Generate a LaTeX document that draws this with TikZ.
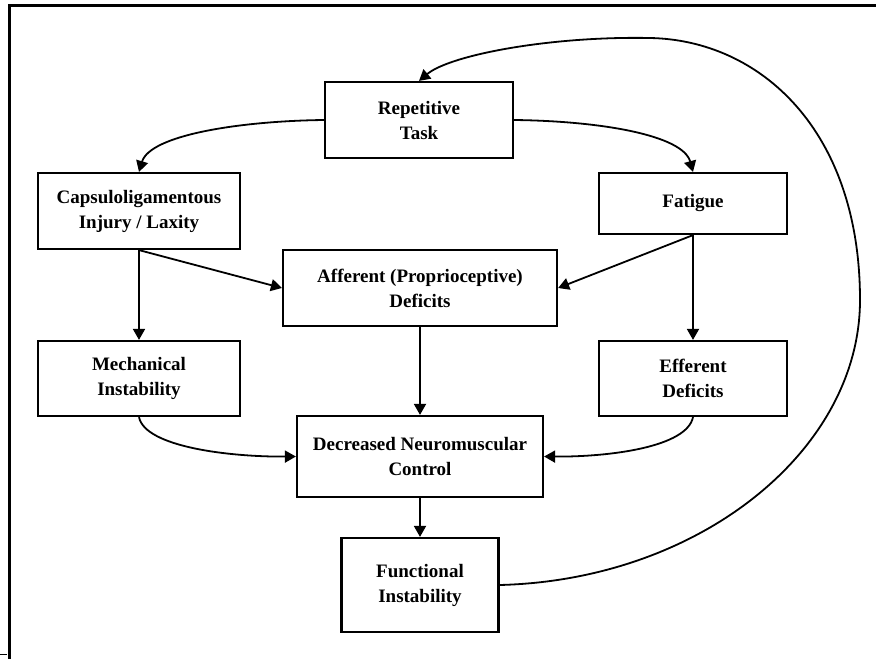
\documentclass[tikz,border=0pt]{standalone}
\usepackage{fontspec}
\setmainfont{Liberation Serif}
\usetikzlibrary{arrows.meta}
\begin{document}
\begin{tikzpicture}[x=1pt,y=-1pt,
  box/.style={draw,line width=2.2pt,align=center,inner sep=0pt,
    font=\fontsize{19}{25}\selectfont\bfseries},
  conn/.style={line width=1.8pt,-{Triangle[length=11pt,width=12pt]}},
  frameline/.style={line width=3pt}]
\useasboundingbox (0,0) rectangle (876,659);
\draw[frameline] (9.5,659) -- (9.5,5.5) -- (876,5.5);
\draw[line width=1.2pt] (0,654.5) -- (7,654.5);

\node[box,minimum width=188pt,minimum height=76pt] (rep) at (419,120) {Repetitive\\Task};
\node[box,minimum width=202pt,minimum height=76pt] (cap) at (139,211) {Capsuloligamentous\\Injury / Laxity};
\node[box,minimum width=188pt,minimum height=61pt] (fat) at (693,203.5) {Fatigue};
\node[box,minimum width=274pt,minimum height=76pt] (aff) at (420,288) {Afferent (Proprioceptive)\\Deficits};
\node[box,minimum width=202pt,minimum height=75pt] (mech) at (139,378.5) {Mechanical\\Instability};
\node[box,minimum width=188pt,minimum height=75pt] (eff) at (693,378.5) {Efferent\\Deficits};
\node[box,minimum width=246pt,minimum height=81pt] (dec) at (420,456.5) {Decreased Neuromuscular\\Control};
\node[box,minimum width=157pt,minimum height=94pt] (fun) at (420,585) {Functional\\Instability};

\draw[conn] (rep.west) .. controls (240,121) and (150,135) .. (cap.north);
\draw[conn] (rep.east) .. controls (600,121) and (683,135) .. (fat.north);
\draw[conn] (cap.south) -- (aff.west);
\draw[conn] (cap.south) -- (mech.north);
\draw[conn] (fat.south) -- (aff.east);
\draw[conn] (fat.south) -- (eff.north);
\draw[conn] (aff.south) -- (dec.north);
\draw[conn] (mech.south) .. controls (145,447) and (230,457) .. (dec.west);
\draw[conn] (eff.south) .. controls (687,447) and (610,457) .. (dec.east);
\draw[conn] (dec.south) -- (fun.north);
\draw[conn] (fun.east) .. controls (700,580) and (860,450) .. (860,300)
  .. controls (860,130) and (760,40) .. (650,38)
  .. controls (550,36) and (450,55) .. (rep.north);
\end{tikzpicture}
\end{document}
